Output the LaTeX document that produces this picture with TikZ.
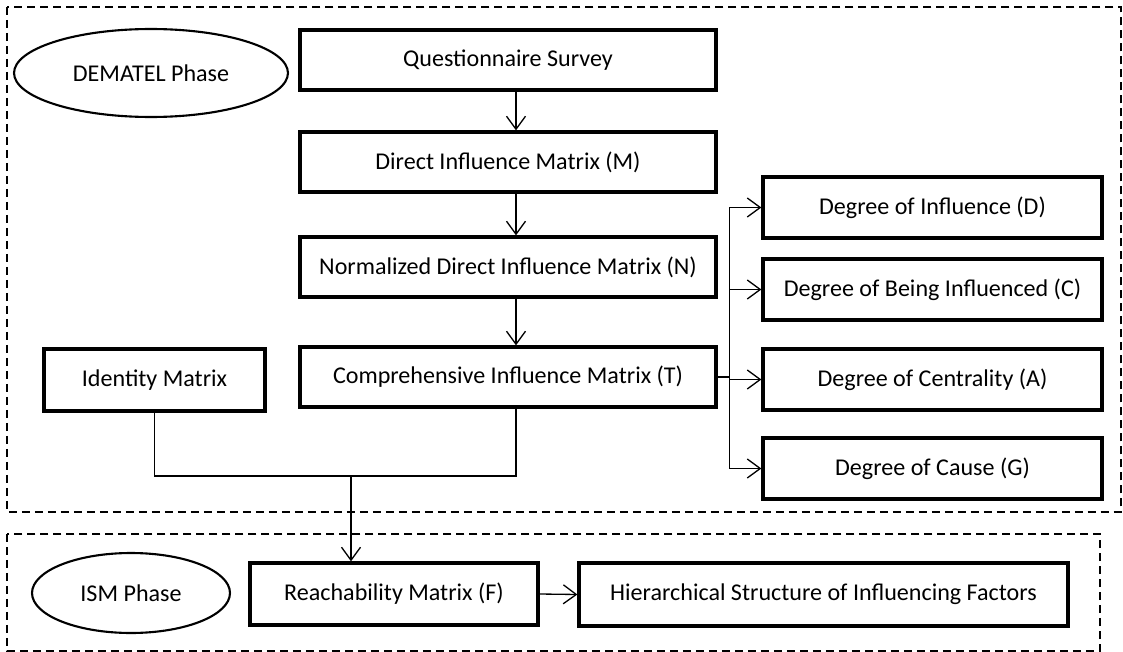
\documentclass[tikz,border=0pt]{standalone}
\usepackage{fontspec}
\setmainfont{Carlito}
\usetikzlibrary{arrows.meta,shapes.geometric}

\tikzset{
  stagebox/.style={draw, line width=1.9pt, rectangle, inner sep=0pt, align=center,
    font=\fontsize{13.7}{16}\selectfont},
  phase/.style={draw, line width=1.2pt, ellipse, inner sep=0pt,
    font=\fontsize{13.7}{16}\selectfont},
  conn/.style={line width=0.75pt, -{Straight Barb[length=0.26cm,width=0.38cm,line width=0.75pt]}},
  link/.style={line width=0.75pt},
  frame/.style={line width=0.9pt, dash pattern=on 0.16cm off 0.1cm},
}

\begin{document}
\begin{tikzpicture}[x=0.02cm, y=-0.02cm]
    \useasboundingbox (0,0) rectangle (1123,652);
    % phase frames
    \draw[frame] (7,7) rectangle (1121,512);
    \draw[frame] (7,534) rectangle (1100,651);
    % DEMATEL phase
    \node[phase, minimum width=5.48cm, minimum height=1.76cm] (dematel) at (151,73) {DEMATEL Phase};
    \node[stagebox, minimum width=8.32cm, minimum height=1.2cm] (survey) at (508,60) {Questionnaire Survey};
    \node[stagebox, minimum width=8.32cm, minimum height=1.2cm] (direct) at (508,162) {Direct Influence Matrix (M)};
    \node[stagebox, minimum width=8.32cm, minimum height=1.2cm] (norm) at (508,267) {Normalized Direct Influence Matrix (N)};
    \node[stagebox, minimum width=8.32cm, minimum height=1.2cm] (compr) at (508,377) {Comprehensive Influence Matrix (T)};
    \node[stagebox, minimum width=4.42cm, minimum height=1.24cm] (ident) at (154.5,380) {Identity Matrix};
    \node[stagebox, minimum width=6.78cm, minimum height=1.22cm] (degD) at (932.5,207.5) {Degree of Influence (D)};
    \node[stagebox, minimum width=6.78cm, minimum height=1.22cm] (degC) at (932.5,289.5) {Degree of Being Influenced (C)};
    \node[stagebox, minimum width=6.78cm, minimum height=1.22cm] (degA) at (932.5,379.5) {Degree of Centrality (A)};
    \node[stagebox, minimum width=6.78cm, minimum height=1.22cm] (degG) at (932.5,468.5) {Degree of Cause (G)};
    % ISM phase
    \node[phase, minimum width=3.96cm, minimum height=1.6cm] (ism) at (131,593) {ISM Phase};
    \node[stagebox, minimum width=5.76cm, minimum height=1.24cm] (reach) at (394,594) {Reachability Matrix (F)};
    \node[stagebox, minimum width=9.78cm, minimum height=1.26cm] (hier) at (823.5,594.5) {Hierarchical Structure of Influencing Factors};
    \coordinate (join) at (351,476);

    \draw[conn] ([xshift=0.16cm]survey.south) -- ([xshift=0.16cm]direct.north);
    \draw[conn] ([xshift=0.16cm]direct.south) -- ([xshift=0.16cm]norm.north);
    \draw[conn] ([xshift=0.16cm]norm.south) -- ([xshift=0.16cm]compr.north);
    \foreach \deg in {degD,degC,degA,degG}
        \draw[conn] (compr.east) -- ++(12,0) |- (\deg.west);
    \draw[link] (ident.south) |- (join) -| ([xshift=0.16cm]compr.south);
    \draw[conn] (join) -- (join |- reach.north);
    \draw[conn] (reach.east) -- (hier.west);
\end{tikzpicture}
\end{document}
